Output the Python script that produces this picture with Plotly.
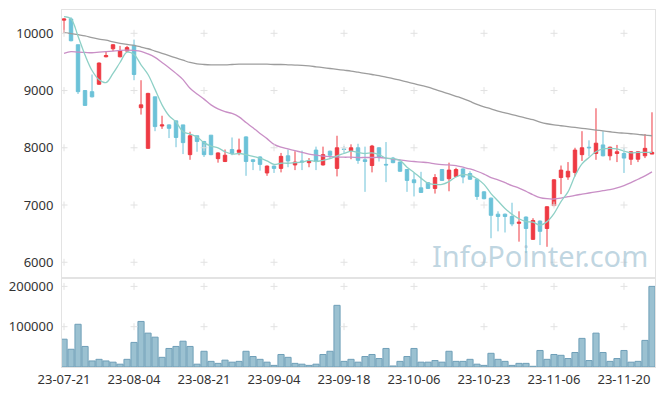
import pandas as pd
import plotly.graph_objects as go

# ---- data -------------------------------------------------------------
holidays = ["2023-08-15", "2023-09-28", "2023-09-29", "2023-10-02", "2023-10-03", "2023-10-09"]
days = [d for d in pd.bdate_range("2023-07-21", "2023-11-24") if d.strftime("%Y-%m-%d") not in holidays]
dates = [d.strftime("%y-%m-%d") for d in days]

open_ = [10230, 10250, 9800, 9000, 8980, 9110, 9590, 9730, 9590, 9690,
         9790, 8700, 7990, 8890, 8380, 8400, 8470, 8400, 7880, 8210,
         8110, 8220, 7810, 7760, 7970, 7920, 8190, 7790, 7840, 7560,
         7680, 7640, 7860, 7700, 7770, 7740, 7960, 7700, 7940, 7640,
         7980, 7950, 8000, 7790, 7690, 8000, 7710, 7820, 7750, 7620,
         7440, 7300, 7390, 7290, 7620, 7460, 7500, 7630, 7550, 7450,
         7230, 7120, 6840, 6840, 6800, 6680, 6790, 6400, 6720, 6590,
         6990, 7480, 7490, 7570, 7880, 8010, 7900, 8050, 7860, 7900,
         7900, 7800, 7800, 7860, 7890]
high = [10260, 10280, 9800, 9000, 9280, 9490, 9690, 9810, 9780, 9780,
        9890, 9180, 8960, 8890, 8560, 8410, 8470, 8400, 8280, 8210,
        8120, 8220, 7920, 7970, 8180, 8160, 8200, 7800, 7850, 7690,
        7690, 7910, 7970, 7940, 7950, 7820, 8020, 8020, 7950, 8210,
        8030, 8060, 8070, 8020, 8050, 8010, 8100, 7840, 7760, 7630,
        7560, 7580, 7400, 7540, 7630, 7740, 7650, 7640, 7590, 7460,
        7240, 7130, 6890, 6850, 7040, 6890, 6800, 6770, 6730, 6980,
        7450, 7690, 7750, 8000, 8290, 8130, 8690, 8290, 8020, 8050,
        8000, 7940, 7940, 8240, 8620]
low = [10000, 9860, 8940, 8740, 8880, 9100, 9580, 9690, 9580, 9680,
       9180, 8580, 7980, 8290, 8330, 8170, 8010, 7890, 7790, 7930,
       7840, 7870, 7740, 7750, 7870, 7870, 7510, 7610, 7600, 7510,
       7560, 7570, 7660, 7610, 7610, 7660, 7610, 7690, 7810, 7500,
       7910, 7800, 7720, 7230, 7570, 7760, 7400, 7730, 7580, 7230,
       7150, 7210, 7280, 7200, 7420, 7240, 7490, 7380, 7440, 7090,
       7100, 6420, 6540, 6520, 6630, 6360, 6160, 6390, 6300, 6270,
       6980, 7190, 7440, 7500, 7770, 7850, 7790, 7850, 7780, 7750,
       7560, 7700, 7750, 7820, 7890]
close = [10250, 9870, 8980, 8740, 8890, 9480, 9610, 9800, 9690, 9750,
         9280, 8750, 8950, 8370, 8400, 8340, 8180, 8090, 8210, 8110,
         7880, 7880, 7910, 7870, 7900, 7960, 7760, 7760, 7710, 7680,
         7640, 7850, 7770, 7750, 7750, 7770, 7760, 7880, 7870, 8000,
         7970, 8000, 7780, 7760, 8030, 7840, 7700, 7740, 7590, 7430,
         7390, 7220, 7290, 7480, 7430, 7610, 7620, 7490, 7450, 7150,
         7110, 6820, 6800, 6800, 6670, 6700, 6590, 6730, 6540, 6970,
         7440, 7610, 7590, 7960, 8000, 8000, 8080, 7860, 8010, 7930,
         7820, 7930, 7930, 7990, 7920]
ma_short = [10290, 10250, 9950, 9620, 9350, 9190, 9140, 9300, 9490, 9670,
            9630, 9450, 9280, 9020, 8750, 8560, 8450, 8280, 8240, 8190,
            8090, 8030, 8000, 7930, 7890, 7900, 7880, 7850, 7820, 7770,
            7710, 7730, 7730, 7740, 7750, 7780, 7760, 7780, 7810, 7860,
            7900, 7940, 7920, 7900, 7910, 7880, 7820, 7810, 7780, 7660,
            7570, 7470, 7380, 7360, 7360, 7410, 7490, 7530, 7520, 7460,
            7360, 7200, 7070, 6940, 6840, 6760, 6710, 6700, 6650, 6710,
            6850, 7060, 7230, 7510, 7720, 7830, 7930, 7980, 7990, 7980,
            7940, 7910, 7920, 7920, 7920]
ma_mid = [9650, 9680, 9670, 9665, 9660, 9670, 9680, 9690, 9700, 9705,
          9700, 9685, 9640, 9580, 9490, 9400, 9300, 9190, 9040, 8940,
          8850, 8750, 8680, 8630, 8600, 8540, 8440, 8350, 8250, 8160,
          8060, 8010, 7980, 7950, 7920, 7890, 7870, 7855, 7845, 7840,
          7835, 7835, 7830, 7830, 7830, 7830, 7820, 7800, 7790, 7770,
          7760, 7750, 7740, 7720, 7705, 7700, 7690, 7660, 7630, 7590,
          7540, 7480, 7440, 7390, 7340, 7295, 7240, 7180, 7130, 7110,
          7105, 7120, 7145, 7170, 7190, 7210, 7230, 7250, 7270, 7300,
          7340, 7390, 7450, 7510, 7580]
ma_long = [10015, 9995, 9975, 9955, 9925, 9900, 9880, 9850, 9825, 9805,
           9790, 9760, 9730, 9690, 9650, 9610, 9570, 9530, 9490, 9465,
           9455, 9450, 9450, 9450, 9455, 9460, 9460, 9460, 9460, 9460,
           9455, 9455, 9450, 9445, 9440, 9430, 9415, 9400, 9385, 9370,
           9355, 9340, 9320, 9300, 9280, 9260, 9235, 9210, 9180, 9150,
           9120, 9090, 9060, 9020, 8980, 8940, 8900, 8860, 8810, 8760,
           8715, 8680, 8640, 8610, 8580, 8550, 8520, 8490, 8450, 8420,
           8400, 8385, 8370, 8355, 8340, 8325, 8310, 8295, 8280, 8265,
           8255, 8245, 8235, 8220, 8210]
volume = [69000, 44000, 106000, 51000, 15000, 19000, 15000, 12000, 7000, 19000,
          61000, 113000, 84000, 74000, 24000, 46000, 51000, 64000, 51000, 7000,
          39000, 14000, 9000, 17000, 12000, 14000, 39000, 26000, 19000, 12000,
          4000, 31000, 24000, 9000, 7000, 4000, 7000, 31000, 39000, 153000,
          14000, 19000, 12000, 26000, 31000, 21000, 46000, 2500, 14000, 26000,
          46000, 12000, 12000, 16000, 12000, 39000, 14000, 14000, 19000, 7000,
          4000, 34000, 19000, 14000, 4000, 9000, 9000, 1700, 41000, 19000,
          31000, 29000, 21000, 36000, 71000, 16000, 84000, 36000, 14000, 21000,
          41000, 12000, 14000, 66000, 200000]
price_ticks = [6000, 7000, 8000, 9000, 10000]
volume_ticks = [100000, 200000]
x_ticks = dates[::10]

# ---- styling ------------------------------------------------------------
RED = "#ee3a43"
BLUE = "#6cc2d8"
FONT = "Noto Sans"
AXLINE = "#e3e3e3"
GRIDMARK = "#e2e2e2"

fig = go.Figure()

fig.add_trace(go.Candlestick(
    x=dates, open=open_, high=high, low=low, close=close,
    increasing=dict(line=dict(color=RED, width=1), fillcolor=RED),
    decreasing=dict(line=dict(color=BLUE, width=1), fillcolor=BLUE),
    whiskerwidth=0, xaxis="x", yaxis="y", showlegend=False,
))
fig.add_trace(go.Scatter(x=dates, y=ma_long, mode="lines", line=dict(color="#9d9d9d", width=1.3, shape="spline"),
                         xaxis="x", yaxis="y", showlegend=False))
fig.add_trace(go.Scatter(x=dates, y=ma_mid, mode="lines", line=dict(color="#c98fc6", width=1.3, shape="spline"),
                         xaxis="x", yaxis="y", showlegend=False))
fig.add_trace(go.Scatter(x=dates, y=ma_short, mode="lines", line=dict(color="#8ed0c6", width=1.3, shape="spline"),
                         xaxis="x", yaxis="y", showlegend=False))

fig.add_trace(go.Bar(x=dates, y=volume, marker=dict(color="rgba(130,178,198,0.8)",
                                                   line=dict(color="#6f9fb8", width=1)),
                     xaxis="x2", yaxis="y2", showlegend=False))

# grid intersection marks
gx, gy = [], []
for t in price_ticks:
    for d in x_ticks:
        gx.append(d); gy.append(t)
fig.add_trace(go.Scatter(x=gx, y=gy, mode="markers", hoverinfo="skip",
                         marker=dict(symbol="cross-thin", size=5, line=dict(color=GRIDMARK, width=1)),
                         xaxis="x", yaxis="y", showlegend=False))
vx, vy = [], []
for t in volume_ticks:
    for d in x_ticks:
        vx.append(d); vy.append(t)
fig.add_trace(go.Scatter(x=vx, y=vy, mode="markers", hoverinfo="skip",
                         marker=dict(symbol="cross-thin", size=5, line=dict(color=GRIDMARK, width=1)),
                         xaxis="x2", yaxis="y2", showlegend=False))

xr = [-0.29, 84.43]
split = 0.2493
common_x = dict(type="category", range=xr, autorange=False, showgrid=False, zeroline=False, showline=True,
                linecolor=AXLINE, linewidth=1, mirror=True, ticks="", automargin=False,
                categoryorder="array", categoryarray=dates)
fig.update_layout(
    width=665, height=396,
    margin=dict(l=62, r=10, t=10, b=29, autoexpand=False),
    paper_bgcolor="white", plot_bgcolor="white",
    font=dict(family=FONT, size=13, color="#333333"),
    showlegend=False,
    xaxis=dict(**common_x, domain=[0, 1], anchor="y", showticklabels=False,
               rangeslider=dict(visible=False)),
    xaxis2=dict(**common_x, domain=[0, 1], anchor="y2", matches="x",
                tickmode="array", tickvals=x_ticks, ticktext=x_ticks,
                tickfont=dict(family=FONT, size=13, color="#333333")),
    yaxis=dict(domain=[split, 1], range=[5725, 10407], autorange=False, showgrid=False, zeroline=False,
               showline=True, linecolor=AXLINE, mirror=True, ticks="", automargin=False,
               tickmode="array", tickvals=price_ticks, ticktext=[str(v) for v in price_ticks],
               ticklabelstandoff=5, anchor="x"),
    yaxis2=dict(domain=[0, split], range=[0, 220800], autorange=False, showgrid=False, zeroline=False,
                showline=True, linecolor=AXLINE, mirror=True, ticks="", automargin=False,
                tickmode="array", tickvals=volume_ticks, ticktext=[str(v) for v in volume_ticks],
                ticklabelstandoff=5, anchor="x2"),
    bargap=0.12,
    boxgap=0.3,
)

fig.add_annotation(text="InfoPointer.com", xref="paper", yref="paper", x=0.992, y=0.311,
                   xanchor="right", yanchor="middle", showarrow=False,
                   font=dict(family=FONT, size=29, color="rgba(150,186,206,0.6)"))

fig.write_html("out.html", config={"displayModeBar": False},
               post_script="document.body.style.margin='0';document.body.style.overflow='hidden';")
